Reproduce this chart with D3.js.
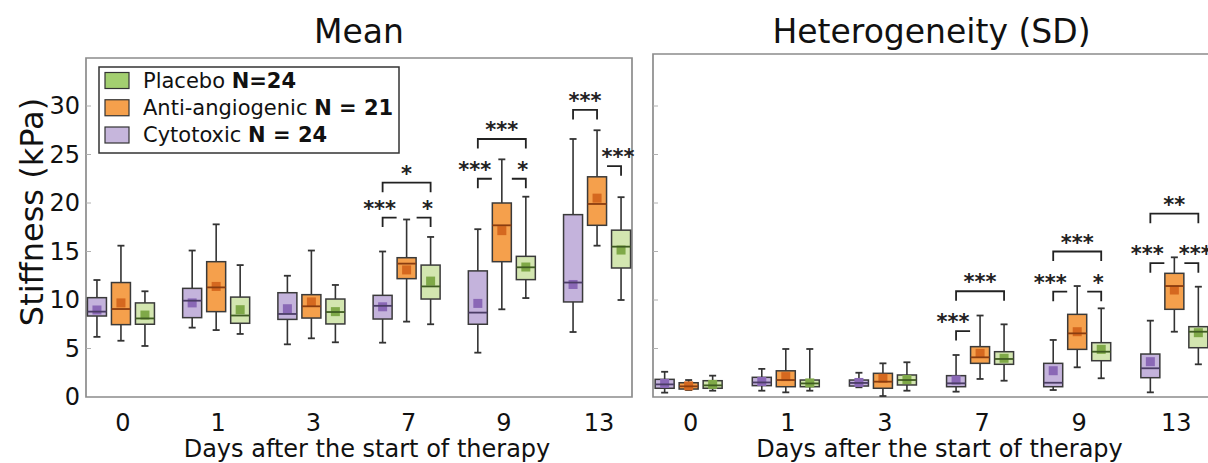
<!DOCTYPE html>
<html>
<head>
<meta charset="utf-8">
<script src="https://cdn.jsdelivr.net/npm/d3@7"></script>
<style>
  body { margin: 0; background: #fff; }
  svg { display: block; font-family: "DejaVu Sans", sans-serif; }
</style>
</head>
<body>
<svg id="chart" width="1208" height="463"></svg>
<script>
const DAYS = ['0', '1', '3', '7', '9', '13'];
const TREATMENTS = ['Cytotoxic', 'Anti-angiogenic', 'Placebo'];
const Y_TICKS = [0, 5, 10, 15, 20, 25, 30];

// per day: [whisker low, q1, median, q3, whisker high, mean]
const meanCytotoxic = [
  [6.2, 8.35, 8.8, 10.24, 12.06, 8.97],
  [7.15, 8.18, 9.93, 11.2, 15.1, 9.7],
  [5.43, 8.0, 8.56, 10.75, 12.5, 9.1],
  [5.6, 8.04, 9.4, 10.48, 15.0, 9.3],
  [4.57, 7.5, 8.7, 13.0, 17.3, 9.65],
  [6.7, 9.8, 11.8, 18.8, 26.6, 11.6],
];
const meanAnti = [
  [5.8, 7.46, 9.07, 11.8, 15.6, 9.7],
  [6.9, 8.8, 11.3, 13.95, 17.8, 11.4],
  [6.05, 8.14, 9.35, 10.55, 15.1, 9.8],
  [7.77, 12.2, 13.75, 14.36, 18.3, 13.1],
  [9.04, 13.95, 17.7, 20.0, 24.5, 17.15],
  [15.6, 17.7, 19.9, 22.7, 27.5, 20.5],
];
const meanPlacebo = [
  [5.26, 7.5, 8.1, 9.7, 10.9, 8.45],
  [6.5, 7.6, 8.4, 10.3, 13.6, 9.0],
  [5.64, 7.53, 8.76, 10.1, 11.55, 8.8],
  [7.5, 10.1, 11.4, 13.6, 16.5, 11.95],
  [10.2, 12.1, 13.37, 14.5, 20.65, 13.4],
  [10.0, 13.3, 15.5, 17.2, 20.6, 15.15],
];

const sdCytotoxic = [
  [0.45, 0.9, 1.3, 1.82, 2.6, 1.4],
  [0.65, 1.17, 1.5, 2.03, 2.9, 1.6],
  [1.0, 1.13, 1.45, 1.75, 2.5, 1.5],
  [0.55, 1.06, 1.41, 2.2, 4.33, 1.75],
  [0.72, 1.06, 1.47, 3.47, 5.88, 2.71],
  [0.48, 1.99, 2.96, 4.43, 7.87, 3.64],
];
const sdAnti = [
  [0.72, 0.82, 1.1, 1.47, 1.75, 1.15],
  [0.48, 1.06, 1.75, 2.7, 4.95, 2.1],
  [0.1, 0.9, 1.58, 2.44, 3.47, 1.93],
  [1.86, 3.47, 4.09, 5.19, 8.4, 4.5],
  [3.06, 4.91, 6.56, 8.52, 11.44, 6.73],
  [6.73, 9.04, 11.44, 12.75, 14.4, 11.03],
];
const sdPlacebo = [
  [0.65, 0.9, 1.2, 1.68, 2.2, 1.3],
  [0.65, 1.06, 1.4, 1.75, 4.95, 1.45],
  [0.65, 1.24, 1.75, 2.27, 3.58, 1.8],
  [1.68, 3.37, 3.92, 4.67, 7.49, 3.99],
  [1.93, 3.74, 4.67, 5.6, 9.14, 4.91],
  [3.37, 5.08, 6.73, 7.25, 11.37, 6.63],
];

// significance brackets: level in kPa, kind full / left half / right half
const meanBrackets = [
  { day: '7', from: 'Cytotoxic', to: 'Placebo', level: 22.1, label: '*', kind: 'full' },
  { day: '7', from: 'Cytotoxic', to: 'Anti-angiogenic', level: 18.5, label: '***', kind: 'left' },
  { day: '7', from: 'Anti-angiogenic', to: 'Placebo', level: 18.5, label: '*', kind: 'right' },
  { day: '9', from: 'Cytotoxic', to: 'Placebo', level: 26.6, label: '***', kind: 'full' },
  { day: '9', from: 'Cytotoxic', to: 'Anti-angiogenic', level: 22.5, label: '***', kind: 'left' },
  { day: '9', from: 'Anti-angiogenic', to: 'Placebo', level: 22.5, label: '*', kind: 'right' },
  { day: '13', from: 'Cytotoxic', to: 'Anti-angiogenic', level: 29.6, label: '***', kind: 'full' },
  { day: '13', from: 'Anti-angiogenic', to: 'Placebo', level: 23.8, label: '***', kind: 'right' },
];
const sdBrackets = [
  { day: '7', from: 'Cytotoxic', to: 'Placebo', level: 10.9, label: '***', kind: 'full' },
  { day: '7', from: 'Cytotoxic', to: 'Anti-angiogenic', level: 6.8, label: '***', kind: 'left' },
  { day: '9', from: 'Cytotoxic', to: 'Placebo', level: 15.0, label: '***', kind: 'full' },
  { day: '9', from: 'Cytotoxic', to: 'Anti-angiogenic', level: 10.86, label: '***', kind: 'left' },
  { day: '9', from: 'Anti-angiogenic', to: 'Placebo', level: 10.86, label: '*', kind: 'right' },
  { day: '13', from: 'Cytotoxic', to: 'Placebo', level: 18.9, label: '**', kind: 'full' },
  { day: '13', from: 'Cytotoxic', to: 'Anti-angiogenic', level: 13.8, label: '***', kind: 'left' },
  { day: '13', from: 'Anti-angiogenic', to: 'Placebo', level: 13.8, label: '***', kind: 'right' },
];

const LEGEND = [
  { name: 'Placebo ', n: 'N=24', color: '#a3cf70' },
  { name: 'Anti-angiogenic ', n: 'N = 21', color: '#f5a04c' },
  { name: 'Cytotoxic ', n: 'N = 24', color: '#c6b6dc' },
];

const STYLE = {
  'Cytotoxic':       { fill: '#c4b3dc', mark: '#8a68b6', med: '#4b3d66' },
  'Anti-angiogenic': { fill: '#f5a04c', mark: '#d5681f', med: '#8a3d10' },
  'Placebo':         { fill: '#d3e6b0', mark: '#7fa948', med: '#3f5c22' },
};

const svg = d3.select('#chart');
const y = d3.scaleLinear().domain([0, 35]).range([397, 57.5]);
const offset = d3.scalePoint().domain(TREATMENTS).range([-24, 24]);
const BOX_W = 19, CAP_W = 7, MARK = 9, TAIL = 9.5, GAP = 10;

const panels = [
  { title: 'Mean', left: 86, right: 632, top: 58, fullFrame: true,
    series: { 'Cytotoxic': meanCytotoxic, 'Anti-angiogenic': meanAnti, 'Placebo': meanPlacebo },
    brackets: meanBrackets, tickLabels: true },
  { title: 'Heterogeneity (SD)', left: 653, right: 1210, top: 54, fullFrame: false,
    series: { 'Cytotoxic': sdCytotoxic, 'Anti-angiogenic': sdAnti, 'Placebo': sdPlacebo },
    brackets: sdBrackets, tickLabels: false },
];

for (const p of panels) {
  const x = d3.scalePoint().domain(DAYS).range([p.left, p.right]).padding(0.367);
  const cx = (day, t) => x(day) + offset(t);
  const g = svg.append('g');

  // frame
  const frame = p.fullFrame
    ? `M${p.left},${p.top}H${p.right}V${y(0)}H${p.left}Z`
    : `M${p.right},${p.top}H${p.left}V${y(0)}H${p.right}`;
  g.append('path').attr('d', frame).attr('fill', 'none')
    .attr('stroke', '#8c8c8c').attr('stroke-width', 1.7);

  // y ticks (inside)
  g.selectAll('.tick').data(Y_TICKS.filter(v => v > 0)).join('line')
    .attr('x1', p.left).attr('x2', p.left + 5)
    .attr('y1', d => y(d)).attr('y2', d => y(d))
    .attr('stroke', '#b0b0b0').attr('stroke-width', 1);
  if (p.tickLabels) {
    g.selectAll('.ylab').data(Y_TICKS).join('text')
      .attr('x', p.left - 6).attr('y', d => y(d) + 8)
      .attr('text-anchor', 'end').attr('font-size', 24).attr('fill', '#111')
      .text(d => d);
  }

  // x tick labels + title
  g.selectAll('.xlab').data(DAYS).join('text')
    .attr('x', d => x(d) + 2).attr('y', 431)
    .attr('text-anchor', 'middle').attr('font-size', 24).attr('fill', '#111')
    .text(d => d);
  g.append('text').attr('x', (p.left + p.right) / 2 + 8).attr('y', 457)
    .attr('text-anchor', 'middle').attr('font-size', 24).attr('fill', '#111')
    .text('Days after the start of therapy');
  g.append('text').attr('x', (p.left + p.right) / 2).attr('y', 43)
    .attr('text-anchor', 'middle').attr('font-size', 33).attr('fill', '#111')
    .text(p.title);

  // boxes
  const boxes = [];
  for (const t of TREATMENTS) {
    p.series[t].forEach((v, i) => {
      const [lo, q1, med, q3, hi, mean] = v;
      boxes.push({ t, day: DAYS[i], lo, q1, med, q3, hi, mean });
    });
  }
  const bg = g.selectAll('.box').data(boxes).join('g');
  bg.append('line')
    .attr('x1', d => cx(d.day, d.t)).attr('x2', d => cx(d.day, d.t))
    .attr('y1', d => y(d.lo)).attr('y2', d => y(d.hi))
    .attr('stroke', '#333').attr('stroke-width', 1.6);
  for (const k of ['lo', 'hi']) {
    bg.append('line')
      .attr('x1', d => cx(d.day, d.t) - CAP_W / 2).attr('x2', d => cx(d.day, d.t) + CAP_W / 2)
      .attr('y1', d => y(d[k])).attr('y2', d => y(d[k]))
      .attr('stroke', '#333').attr('stroke-width', 1.8);
  }
  bg.append('rect')
    .attr('x', d => cx(d.day, d.t) - BOX_W / 2).attr('width', BOX_W)
    .attr('y', d => y(d.q3)).attr('height', d => y(d.q1) - y(d.q3))
    .attr('fill', d => STYLE[d.t].fill).attr('stroke', '#3a3a3a').attr('stroke-width', 1.5);
  bg.append('rect')
    .attr('x', d => cx(d.day, d.t) - MARK / 2).attr('width', MARK)
    .attr('y', d => y(d.mean) - MARK / 2).attr('height', MARK)
    .attr('fill', d => STYLE[d.t].mark);
  bg.append('line')
    .attr('x1', d => cx(d.day, d.t) - BOX_W / 2).attr('x2', d => cx(d.day, d.t) + BOX_W / 2)
    .attr('y1', d => y(d.med)).attr('y2', d => y(d.med))
    .attr('stroke', d => STYLE[d.t].med).attr('stroke-width', 1.8);

  // significance brackets
  for (const b of p.brackets) {
    const ly = y(b.level);
    let x1 = cx(b.day, b.from), x2 = cx(b.day, b.to), path, lx;
    if (b.kind === 'full') {
      path = `M${x1},${ly + TAIL}V${ly}H${x2}V${ly + TAIL}`;
      lx = (x1 + x2) / 2;
    } else if (b.kind === 'left') {
      x2 -= GAP;
      path = `M${x1},${ly + TAIL}V${ly}H${x2}`;
      lx = x1 - 3;
    } else {
      x1 += GAP;
      path = `M${x1},${ly}H${x2}V${ly + TAIL}`;
      lx = x2 - 3;
    }
    g.append('path').attr('d', path).attr('fill', 'none')
      .attr('stroke', '#222').attr('stroke-width', 1.8);
    g.append('text').attr('x', lx).attr('y', ly - 2)
      .attr('text-anchor', 'middle').attr('font-size', 21).attr('font-weight', 'bold')
      .attr('fill', '#222').text(b.label);
  }
}

// y axis title
svg.append('text')
  .attr('transform', 'translate(43,212) rotate(-90)')
  .attr('text-anchor', 'middle').attr('font-size', 32).attr('fill', '#111')
  .text('Stiffness (kPa)');

// legend
const lg = svg.append('g');
lg.append('rect').attr('x', 99).attr('y', 67).attr('width', 300).attr('height', 86)
  .attr('fill', '#fff').attr('stroke', '#333').attr('stroke-width', 1.5);
const rowY = d3.scalePoint().domain(LEGEND.map(d => d.name)).range([80.5, 135]);
LEGEND.forEach(d => {
  lg.append('rect').attr('x', 105).attr('y', rowY(d.name) - 8).attr('width', 24).attr('height', 16)
    .attr('fill', d.color).attr('stroke', '#333').attr('stroke-width', 1.2);
  const t = lg.append('text').attr('x', 143).attr('y', rowY(d.name) + 7)
    .attr('font-size', 21).attr('fill', '#111');
  t.append('tspan').text(d.name);
  t.append('tspan').attr('font-weight', 'bold').text(d.n);
});
</script>
</body>
</html>
